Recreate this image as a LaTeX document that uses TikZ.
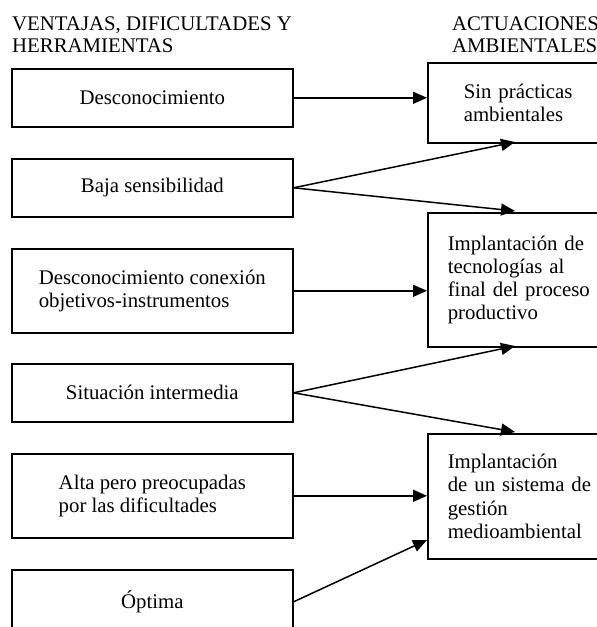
\documentclass[tikz,border=0pt]{standalone}
\usepackage{fontspec}
\setmainfont{Liberation Serif}
\usetikzlibrary{arrows.meta}
\begin{document}
\begin{tikzpicture}[x=1pt,y=-1pt,
  txt/.style={font=\fontsize{20.8pt}{23.2pt}\selectfont},
  hdr/.style={font=\fontsize{20.8pt}{22pt}\selectfont, anchor=north west, inner sep=0pt, align=left},
  lbox/.style={txt, draw, line width=1.6pt, anchor=north west, minimum width=281pt, inner sep=0pt, align=left},
  rbox/.style={txt, draw, line width=1.6pt, anchor=north west, minimum width=200pt, inner ysep=0pt, inner xsep=20pt, text width=160pt, align=left},
  arr/.style={-{Triangle[length=14pt,width=12pt]}, line width=1.5pt}
]
\useasboundingbox (0,0) rectangle (597,627);
\clip (0,0) rectangle (597,627);
\fill[white] (0,0) rectangle (597,627);

\node[hdr] (h1) at (12,17) {VENTAJAS, DIFICULTADES Y\\HERRAMIENTAS};
\node[hdr] (h2) at (452,17) {ACTUACIONES\\AMBIENTALES};

\node[lbox, minimum height=58pt] (b1) at (11,68) {Desconocimiento};
\node[lbox, minimum height=58pt] (b2) at (11,158) {Baja sensibilidad};
\node[lbox, minimum height=84pt] (b3) at (11,248) {Desconocimiento conexión\\objetivos-instrumentos};
\node[lbox, minimum height=58pt] (b4) at (11,363) {Situación intermedia};
\node[lbox, minimum height=84pt] (b5) at (11,453) {Alta pero preocupadas\\por las dificultades};
\node[lbox, minimum height=64pt] (b6) at (11,569) {Óptima};

\node[rbox, minimum height=80pt, inner xsep=36pt, text width=128pt] (r1) at (427,62) {Sin prácticas\\ambientales};
\node[rbox, minimum height=134pt] (r2) at (427,212) {Implantación de\\tecnologías al\\final del proceso\\productivo};
\node[rbox, minimum height=125pt] (r3) at (427,433) {Implantación\\de un sistema de\\gestión\\medioambiental};

\coordinate (t2a) at (515,142);
\coordinate (t2b) at (515,211);
\coordinate (t4a) at (515,346);
\coordinate (t4b) at (515,432);
\coordinate (t6) at (427,540);

\draw[arr] (b1.east) -- (b1.east -| r1.west);
\draw[arr] (b2.east) -- (t2a);
\draw[arr] (b2.east) -- (t2b);
\draw[arr] (b3.east) -- (b3.east -| r2.west);
\draw[arr] (b4.east) -- (t4a);
\draw[arr] (b4.east) -- (t4b);
\draw[arr] (b5.east) -- (b5.east -| r3.west);
\draw[arr] (b6.east) -- (t6);
\end{tikzpicture}
\end{document}
